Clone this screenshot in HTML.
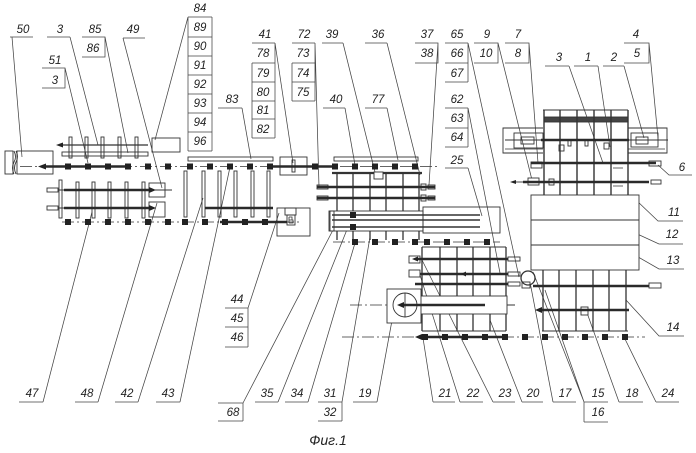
<!DOCTYPE html>
<html><head><meta charset="utf-8">
<style>
html,body{margin:0;padding:0;background:#fff;}
svg{display:block;}
text{font-family:"Liberation Sans",sans-serif;font-style:italic;font-size:11.5px;fill:#222;text-anchor:middle;}
</style></head><body>
<svg width="696" height="453" viewBox="0 0 696 453" xmlns="http://www.w3.org/2000/svg">
<rect width="696" height="453" fill="#fff"/>
<g stroke="#444" stroke-width="0.75" fill="none">
<path d="M10,37H33M12,37L22,157M47,37H70M70,37L98,145M82,37H105V57H82M105,37L128,153M123,38H145M123,38L162,188M42,68H65V88H42M65,68L88,163"/>
<path d="M188,17V151M212,17V151M188,17H212M188,37H212M188,56H212M188,75H212M188,94H212M188,113H212M188,132H212M188,151H212M188,17L155,140M218,108H242M242,108L251,159"/>
<path d="M252,43H275M252,63H275M252,82H275M252,101H275M252,119H275M252,138H275M275,43V138M252,63V138M275,43L293,163"/>
<path d="M292,43H315M292,63H315M292,82H315M292,101H315M315,43V101M292,63V101M315,43L319,187"/>
<path d="M322,43H343M343,43L375,172M365,43H387M387,43L420,175M415,43H438V63H415M438,43L429,185"/>
<path d="M445,43H468M445,63H468M445,82H468M468,43V82M468,43L519,277M323,108H345M345,108L355,165M365,108H387M387,108L398,160"/>
<path d="M445,108H468M445,128H468M445,147H468M468,108V147M468,108L500,273M445,168H468M468,168L482,216"/>
<path d="M474,43H498V63H474M498,43L532,180M505,43H529V63H505M529,43L538,163M624,43H649V63H624M649,43L658,138"/>
<path d="M545,66H569M569,66L603,163M574,66H598M598,66L610,147M603,66H624M624,66L644,138"/>
<path d="M658,165L669,175H692M636,200L658,221H683M633,232L659,244H683M633,254L659,269H684M626,300L659,336H684"/>
<path d="M19,402H43M43,402L92,212M75,402H98M98,402L157,203M115,402H138M138,402L203,198M156,402H180M180,402L230,167"/>
<path d="M225,308H248M225,327H248M225,347H248M248,308V347M248,308L279,213M218,403H243M218,421H243M243,403V421M243,403L333,230"/>
<path d="M255,402H278M278,402L352,217M285,402H308M308,402L355,243M318,402H342M318,421H342M342,402V421M342,402L370,237M353,402H377M377,402L393,315"/>
<path d="M433,402H455M433,402L423,338M460,402H483M460,402L420,275M493,402H515M493,402L422,260M522,402H543M522,402L490,320M553,402H576M553,402L530,282"/>
<path d="M584,402H608M584,422H608M584,402V422M584,402L533,272M584,402L545,290M619,402H643M619,402L586,310M656,402H679M656,402L624,337"/>
</g>

<g stroke="#333" stroke-width="0.9" fill="none">
<rect x="5" y="151" width="8" height="23"/><rect x="17" y="151" width="36" height="23"/>
<path d="M14,151q3,6 0,11q-3,6 0,12M16,151q3,6 0,11q-3,6 0,12"/>
<path stroke-dasharray="12 3 2 3" stroke-width="0.8" d="M20,166.5H440M62,222H300M333,242H500M342,337H645M350,305H387"/>
<path d="M62,145H148" stroke-width="1.3"/>
<rect x="69" y="137" width="3" height="21"/><rect x="85" y="137" width="3" height="21"/><rect x="101" y="137" width="3" height="21"/><rect x="118" y="137" width="3" height="21"/><rect x="135" y="137" width="3" height="21"/>
<rect x="62" y="152" width="86" height="4"/><rect x="152" y="138" width="28" height="14"/>
<rect x="47" y="188" width="11" height="4"/><rect x="47" y="206" width="11" height="4"/>
<path d="M58,190H64M58,208H64M155,190H172"/>
<rect x="59" y="180" width="3" height="38"/><rect x="76" y="182" width="3" height="36"/><rect x="92" y="182" width="3" height="36"/><rect x="108" y="182" width="3" height="36"/><rect x="125" y="182" width="3" height="36"/><rect x="142" y="182" width="3" height="36"/>
<rect x="149" y="183" width="16" height="14"/><rect x="149" y="202" width="16" height="15"/>
<rect x="184" y="171" width="3" height="46"/><rect x="202" y="171" width="3" height="46"/><rect x="218" y="171" width="3" height="46"/><rect x="234" y="171" width="3" height="46"/><rect x="251" y="171" width="3" height="46"/><rect x="267" y="171" width="3" height="46"/>
<rect x="188" y="157" width="85" height="4"/>
<rect x="280" y="157" width="27" height="18"/><rect x="292" y="160" width="3" height="12"/>
<rect x="277" y="208" width="33" height="28"/><rect x="285" y="208" width="11" height="7"/><rect x="287" y="215" width="8" height="10"/>
<path d="M289,217V223M289,217H292V220H289M289,220H293V223H289" stroke-width="0.8"/>
<rect x="334" y="157" width="84" height="4"/>
<path d="M332,173H422" stroke-width="2.2"/>
<path d="M337,173V240M353,173V240M370,173V240M386,173V240M403,173V240M419,173V240" stroke-width="1.3"/>
<rect x="374" y="172" width="9" height="7" fill="#fff"/>
<rect x="317" y="185" width="11" height="4"/><rect x="317" y="196" width="11" height="4"/>
<rect x="421" y="184" width="5" height="6"/><rect x="428" y="185" width="7" height="4"/><rect x="421" y="195" width="5" height="6"/><rect x="428" y="196" width="7" height="4"/>
<rect x="330" y="211" width="93" height="20" fill="#fff"/><rect x="329" y="211" width="5" height="20"/>
<rect x="423" y="207" width="77" height="26"/>
<path d="M422,247V331M440,247V331M457,247V331M473,247V331M490,247V331M506,247V331" stroke-width="1.3"/>
<path d="M422,247H506M422,331H506M485,305H515"/>
<rect x="508" y="257" width="12" height="4"/><rect x="508" y="272" width="12" height="4"/><rect x="508" y="282" width="12" height="4"/>
<rect x="409" y="256" width="11" height="7"/><rect x="409" y="270" width="11" height="7"/>
<rect x="418" y="296" width="89" height="18" fill="#fff"/>
<rect x="387" y="289" width="34" height="34" fill="#fff"/><circle cx="405" cy="305" r="12"/><path d="M405,293V317"/>
<circle cx="528" cy="278" r="7" fill="#fff" stroke-width="1.3"/><rect x="522" y="282" width="8" height="6"/>
<rect x="531" y="195" width="108" height="75" fill="#fff"/><path d="M531,220H639M531,245H639"/>
<path d="M543,270V331M559,270V331M576,270V331M593,270V331M609,270V331M626,270V331" stroke-width="1.3"/>
<path d="M542,331H628"/><rect x="649" y="283" width="12" height="5"/><rect x="581" y="307" width="7" height="8" fill="#fff"/>
<path d="M543,128H503V153H543M628,128H667V153H628"/>
<path d="M505,149H543M628,149H665" stroke-width="0.7"/>
<rect x="514" y="133" width="29" height="15"/><rect x="521" y="137" width="13" height="7"/>
<rect x="631" y="133" width="27" height="14"/><rect x="636" y="137" width="12" height="7"/>
<path d="M505,140H541M629,140H668M543,110H628"/>
<rect x="544" y="117" width="84" height="5" fill="#444"/>
<path d="M544,110V195M560,110V195M577,110V195M594,110V195M611,110V195M628,110V195" stroke-width="1.4"/>
<rect x="568" y="140" width="3" height="6"/><rect x="585" y="140" width="3" height="6"/><rect x="559" y="145" width="5" height="6"/><rect x="604" y="143" width="5" height="6"/>
<rect x="649" y="161" width="12" height="5"/><rect x="651" y="180" width="10" height="4"/>
<rect x="531" y="162" width="11" height="6" fill="#fff"/><rect x="528" y="178" width="11" height="7" fill="#fff"/>
<path d="M514,182H528"/><rect x="549" y="179" width="5" height="6"/>
<path d="M613,168H623M613,186H623" stroke-width="0.7"/>
</g>

<g stroke="#2a2a2a" stroke-width="2.4" fill="none">
<path d="M44,166.5H130M270,166.5H333M64,190H150M64,208H150M220,222H287M205,208H273M317,187H435M317,198H435"/>
<path d="M417,259H508M420,274H508M415,284H508M402,305H485M421,337H505M533,286H649M540,310H629M541,140H629M531,163H656M523,182H649"/>
</g>
<path d="M332,215H480M332,220H480M332,227H480" stroke="#333" stroke-width="1.5" fill="none"/>

<g stroke="#222" stroke-width="6" fill="none" stroke-dasharray="6 14">
<path d="M65,166.5H175"/>
<path d="M187,166.5H275"/>
<path d="M312,166.5H420"/>
<path d="M65,222H172"/>
<path d="M182,222H270"/>
<path d="M352,242H420"/>
<path d="M424,242H490"/>
<path d="M422,337H630"/>
<path d="M350,215H356M350,227H356"/>
</g>

<g fill="#222">
<polygon points="38,166.5 46,163.5 46,169.5"/>
<polygon points="56,145 63,142.5 63,147.5"/>
<polygon points="156,190 149,187 149,193"/>
<polygon points="156,208 149,205 149,211"/>
<polygon points="397,305 404,302 404,308"/>
<polygon points="415,337 422,334 422,340"/>
<polygon points="535,310 542,307 542,313"/>
<polygon points="510,182 516,180 516,184"/>
<polygon points="412,259 418,256.5 418,261.5"/>
<polygon points="461,274 466,271.5 466,276.5"/>
</g>

<text x="23" y="33">50</text><text x="60" y="33">3</text><text x="95" y="33">85</text><text x="93" y="52">86</text>
<text x="133" y="33">49</text><text x="55" y="64">51</text><text x="55" y="84">3</text>
<text x="200" y="12">84</text><text x="200" y="31">89</text><text x="200" y="50">90</text><text x="200" y="69">91</text>
<text x="200" y="88">92</text><text x="200" y="107">93</text><text x="200" y="126">94</text><text x="200" y="145">96</text>
<text x="232" y="103">83</text>
<text x="265" y="38">41</text><text x="263" y="57">78</text><text x="263" y="77">79</text><text x="263" y="96">80</text><text x="263" y="114">81</text><text x="263" y="133">82</text>
<text x="304" y="38">72</text><text x="303" y="57">73</text><text x="303" y="77">74</text><text x="303" y="96">75</text>
<text x="332" y="38">39</text><text x="378" y="38">36</text><text x="427" y="38">37</text><text x="427" y="57">38</text>
<text x="457" y="38">65</text><text x="457" y="57">66</text><text x="457" y="77">67</text>
<text x="336" y="103">40</text><text x="378" y="103">77</text>
<text x="457" y="103">62</text><text x="457" y="122">63</text><text x="457" y="141">64</text><text x="457" y="164">25</text>
<text x="487" y="38">9</text><text x="486" y="57">10</text><text x="518" y="38">7</text><text x="518" y="57">8</text>
<text x="636" y="38">4</text><text x="637" y="57">5</text>
<text x="559" y="61">3</text><text x="588" y="61">1</text><text x="614" y="61">2</text>
<text x="682" y="171">6</text><text x="674" y="216">11</text><text x="672" y="238">12</text><text x="673" y="264">13</text><text x="673" y="331">14</text>
<text x="32" y="397">47</text><text x="87" y="397">48</text><text x="127" y="397">42</text><text x="168" y="397">43</text>
<text x="237" y="303">44</text><text x="237" y="322">45</text><text x="237" y="341">46</text>
<text x="233" y="416">68</text><text x="267" y="397">35</text><text x="297" y="397">34</text>
<text x="330" y="397">31</text><text x="330" y="416">32</text><text x="365" y="397">19</text>
<text x="445" y="397">21</text><text x="473" y="397">22</text><text x="505" y="397">23</text><text x="533" y="397">20</text>
<text x="565" y="397">17</text><text x="598" y="397">15</text><text x="598" y="416">16</text>
<text x="632" y="397">18</text><text x="668" y="397">24</text>
<text x="328" y="445" style="font-size:14px">Фиг.1</text>
</svg>
</body></html>
